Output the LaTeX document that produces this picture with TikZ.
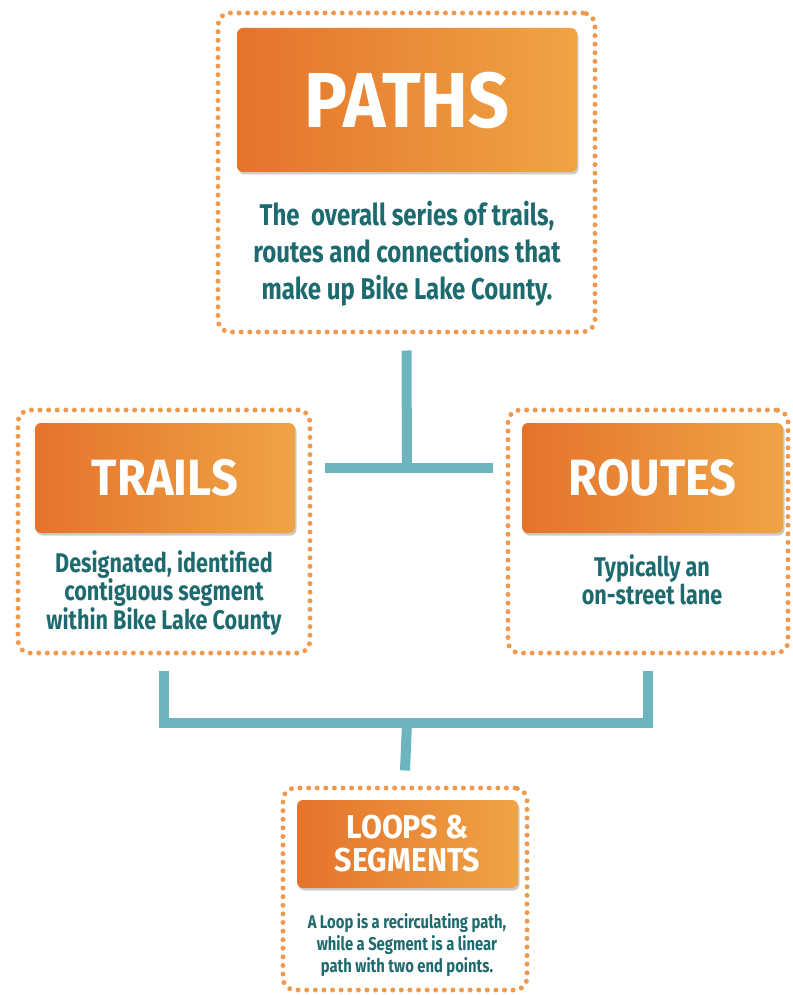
\documentclass[tikz,border=0pt]{standalone}
\usepackage{fontspec}
\setmainfont[FakeStretch=0.80]{Fira Sans}
\newfontfamily\headFont[FakeStretch=0.92]{Fira Sans}
\usepackage{xcolor}
\usepackage{tikz}
\usetikzlibrary{calc,shadows}
\definecolor{dotOrange}{HTML}{EE9A4E}
\definecolor{headL}{HTML}{E5732B}
\definecolor{headR}{HTML}{EFA444}
\definecolor{tealTxt}{HTML}{1D6A6F}
\definecolor{linkTeal}{HTML}{6CB5BF}
\tikzset{
  outerBox/.style={draw=dotOrange, line width=5pt, line cap=round, dash pattern=on 0pt off 8.6pt, rounded corners=12pt},
  headBox/.style={rounded corners=6pt, left color=headL, right color=headR, text=white,
    drop shadow={shadow xshift=1.5pt, shadow yshift=-2.5pt, fill=black!50, opacity=.4}},
  descLbl/.style={text=tealTxt, align=center, inner sep=0pt},
  link/.style={draw=linkTeal, line width=10pt},
}

\begin{document}
\begin{tikzpicture}[x=1pt,y=-1pt]
  \useasboundingbox (0,0) rectangle (792,995);

  % dotted frames
  \node[outerBox, minimum width=377pt, minimum height=319pt] (pathsBox)  at (406.5,172.5) {};
  \node[outerBox, minimum width=292pt, minimum height=243pt] (trailsBox) at (164,531.5) {};
  \node[outerBox, minimum width=280pt, minimum height=243pt] (routesBox) at (648,531.5) {};
  \node[outerBox, minimum width=244pt, minimum height=202pt] (loopsBox)  at (405,889) {};

  % orange headers
  \node[headBox, minimum width=340pt, minimum height=144pt, font=\headFont\bfseries\fontsize{78}{78}\selectfont] (pathsHead) at (407,100) {PATHS};
  \node[headBox, minimum width=260pt, minimum height=110pt, font=\headFont\bfseries\fontsize{51}{51}\selectfont] (trailsHead) at (165,478) {TRAILS};
  \node[headBox, minimum width=261pt, minimum height=110pt, font=\headFont\bfseries\fontsize{51}{51}\selectfont] (routesHead) at (652.5,478) {ROUTES};
  \node[headBox, minimum width=221pt, minimum height=88pt, align=center, font=\headFont\bfseries\fontsize{33}{33}\selectfont] (loopsHead) at (407.5,844) {LOOPS \&\\SEGMENTS};

  % descriptions
  \node[descLbl, font=\bfseries\fontsize{30}{37}\selectfont] (pathsDesc) at (407,254)
    {The\ \ overall series of trails,\\routes and connections that\\make up Bike Lake County.};
  \node[descLbl, font=\bfseries\fontsize{27}{25}\selectfont] (trailsDesc) at (164,593)
    {Designated, identified\\contiguous segment\\within Bike Lake County};
  \node[descLbl, font=\bfseries\fontsize{27}{25}\selectfont] (routesDesc) at (652,580)
    {Typically an\\on-street lane};
  \node[descLbl, font=\bfseries\fontsize{18.5}{22}\selectfont] (loopsDesc) at (407,945)
    {A Loop is a recirculating path,\\while a Segment is a linear\\path with two end points.};

  % connectors
  \coordinate (hubTop) at (407,468);
  \coordinate (hubBot) at (407,723);
  \draw[link] ([yshift=-16pt]pathsBox.south) -- (hubTop);
  \draw[link] ([xshift=12pt]trailsBox.east |- hubTop) -- ([xshift=-13pt]routesBox.west |- hubTop);
  \draw[link] ([yshift=-15pt]trailsBox.south) |- (hubBot) -| ([yshift=-15pt]routesBox.south);
  \draw[link] (hubBot) -- ([yshift=15pt]loopsBox.north);
\end{tikzpicture}
\end{document}
